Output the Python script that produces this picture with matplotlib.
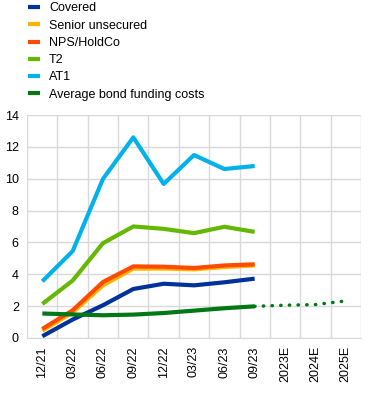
import matplotlib
matplotlib.use('Agg')
import matplotlib.pyplot as plt
import numpy as np

plt.rcParams['font.family'] = ['Liberation Sans', 'DejaVu Sans']

# categories on the x axis
labels = ["12/21", "03/22", "06/22", "09/22", "12/22", "03/23", "06/23", "09/23",
          "2023E", "2024E", "2025E"]

# quarterly series (12/21 .. 09/23)
covered = [0.1, 1.15, 2.05, 3.07, 3.4, 3.3, 3.49, 3.72]
senior = [0.45, 1.6, 3.3, 4.35, 4.35, 4.3, 4.45, 4.55]
nps = [0.56, 1.73, 3.51, 4.49, 4.47, 4.39, 4.55, 4.62]
t2 = [2.13, 3.6, 5.95, 7.0, 6.85, 6.58, 6.98, 6.66]
at1 = [3.55, 5.45, 9.99, 12.6, 9.67, 11.49, 10.61, 10.8]
avg_cost = [1.53, 1.47, 1.42, 1.46, 1.56, 1.71, 1.86, 1.98]
# projection of average bond funding costs (09/23, 2023E, 2024E, 2025E)
avg_proj = [1.98, 2.05, 2.09, 2.32]

fig = plt.figure(figsize=(3.72, 4.11), dpi=100)
ax = fig.add_axes([0.073, 0.178, 0.897, 0.542])

x = np.arange(len(covered)) + 0.5
xp = np.arange(7, 11) + 0.5
lw = 3.0

ax.plot(x, covered, color='#003299', lw=lw, label='Covered', solid_capstyle='butt')
ax.plot(x, senior, color='#FFB400', lw=lw, label='Senior unsecured', solid_capstyle='butt')
ax.plot(x, nps, color='#FF4B00', lw=lw, label='NPS/HoldCo', solid_capstyle='butt')
ax.plot(x, t2, color='#65B800', lw=lw, label='T2', solid_capstyle='butt')
ax.plot(x, at1, color='#00B1EA', lw=lw, label='AT1', solid_capstyle='butt')
ax.plot(x, avg_cost, color='#007816', lw=lw, label='Average bond funding costs',
        solid_capstyle='butt')
ax.plot(xp, avg_proj, color='#007816', lw=2.5, linestyle=(0, (0.1, 2.4)),
        dash_capstyle='round')

ax.set_xlim(0, len(labels))
ax.set_ylim(0, 14)
ax.set_yticks(np.arange(0, 15, 2))
ax.set_xticks(np.arange(len(labels)) + 0.5)
ax.set_xticklabels(labels, rotation=90, fontsize=9)
ax.set_xticks(np.arange(0, len(labels) + 1), minor=True)
ax.tick_params(axis='y', labelsize=9, length=0, pad=6)
ax.tick_params(axis='x', which='both', length=0, pad=6)

ax.grid(True, which='minor', axis='x', color='#d9d9d9', lw=1)
ax.grid(True, which='major', axis='y', color='#d9d9d9', lw=1)
ax.set_axisbelow(True)
for s in ['top', 'right', 'left']:
    ax.spines[s].set_visible(False)
ax.spines['bottom'].set_color('#d9d9d9')

handles, names = ax.get_legend_handles_labels()
fig.legend(handles, names, loc='upper left', bbox_to_anchor=(28 / 372, 1 - 2.4 / 411),
           frameon=False, fontsize=9, handlelength=0.96, handletextpad=0.72,
           labelspacing=0.42, borderpad=0, borderaxespad=0)

fig.savefig('out.png', dpi=100)
